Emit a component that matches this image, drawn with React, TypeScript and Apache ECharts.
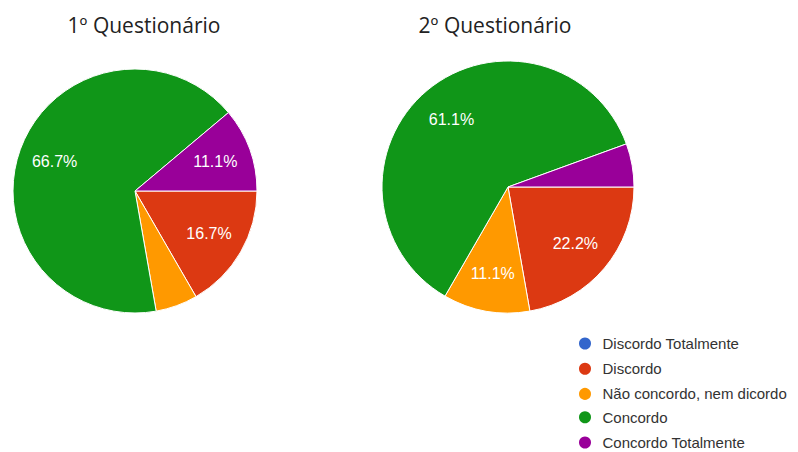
import React, { useEffect, useRef } from "react";
import * as echarts from "echarts";

const categories = [
  "Discordo Totalmente",
  "Discordo",
  "Não concordo, nem dicordo",
  "Concordo",
  "Concordo Totalmente",
];
const colors = ["#3366cc", "#dc3912", "#ff9900", "#109618", "#990099"];
const titles = ["1º Questionário", "2º Questionário"];
const q1Values = [0, 3, 1, 12, 2];
const q2Values = [0, 4, 2, 11, 1];

export default function App() {
  const ref = useRef<HTMLDivElement>(null);
  useEffect(() => {
    if (!ref.current) return;
    const chart = echarts.init(ref.current, undefined, { renderer: "svg" });
    const mk = (vals: number[]) =>
      vals.map((v, i) => ({ name: categories[i], value: v, itemStyle: { color: colors[i] } }));
    const pies = [
      { vals: q1Values, center: [135, 191], r: 122 },
      { vals: q2Values, center: [508, 187], r: 126 },
    ];
    const series: any[] = [];
    pies.forEach((p) => {
      series.push({
        type: "pie",
        center: p.center,
        radius: [0, p.r],
        startAngle: 0,
        clockwise: true,
        data: mk(p.vals),
        label: { show: false },
        labelLine: { show: false },
        itemStyle: { borderColor: "#ffffff", borderWidth: 1 },
        emphasis: { disabled: true },
        silent: true,
      });
    });
    pies.forEach((p) => {
      series.push({
        type: "pie",
        center: p.center,
        radius: [Math.round(p.r * 0.35), p.r],
        startAngle: 0,
        clockwise: true,
        percentPrecision: 1,
        avoidLabelOverlap: false,
        data: p.vals.map((v, i) => ({ name: categories[i], value: v })),
        itemStyle: { color: "rgba(0,0,0,0)", borderWidth: 0 },
        label: {
          show: true,
          position: "inside",
          color: "#ffffff",
          fontFamily: "Liberation Sans, Arial, sans-serif",
          fontSize: 16,
          formatter: (params: any) =>
            params.percent >= 10 ? params.percent.toFixed(1) + "%" : "",
        },
        labelLine: { show: false },
        emphasis: { disabled: true },
        silent: true,
        legendHoverLink: false,
      });
    });
    const legendBase = {
      orient: "vertical",
      left: 577,
      padding: 0,
      icon: "circle",
      itemWidth: 25,
      itemHeight: 14,
      itemGap: 9.2,
      selectedMode: false,
      textStyle: {
        fontFamily: "Liberation Sans, Arial, sans-serif",
        fontSize: 15,
        color: "#333333",
      },
    };
    chart.setOption({
      animation: false,
      backgroundColor: "#ffffff",
      color: colors,
      legend: [
        { ...legendBase, top: 335.5, data: categories.slice(0, 3) },
        { ...legendBase, top: 335.5 + 3 * 24.6, data: categories.slice(3) },
      ],
      graphic: [
        {
          type: "text",
          x: 144,
          y: 25,
          style: {
            text: titles[0],
            fontFamily: "Open Sans, sans-serif",
            fontSize: 21,
            fill: "#222222",
            textAlign: "center",
            textVerticalAlign: "middle",
          },
        },
        {
          type: "text",
          x: 495,
          y: 25,
          style: {
            text: titles[1],
            fontFamily: "Open Sans, sans-serif",
            fontSize: 21,
            fill: "#222222",
            textAlign: "center",
            textVerticalAlign: "middle",
          },
        },
      ],
      series,
    });
    return () => chart.dispose();
  }, []);
  return (
    <div
      ref={ref}
      style={{ position: "fixed", left: 0, top: 0, width: 798, height: 452 }}
    />
  );
}
